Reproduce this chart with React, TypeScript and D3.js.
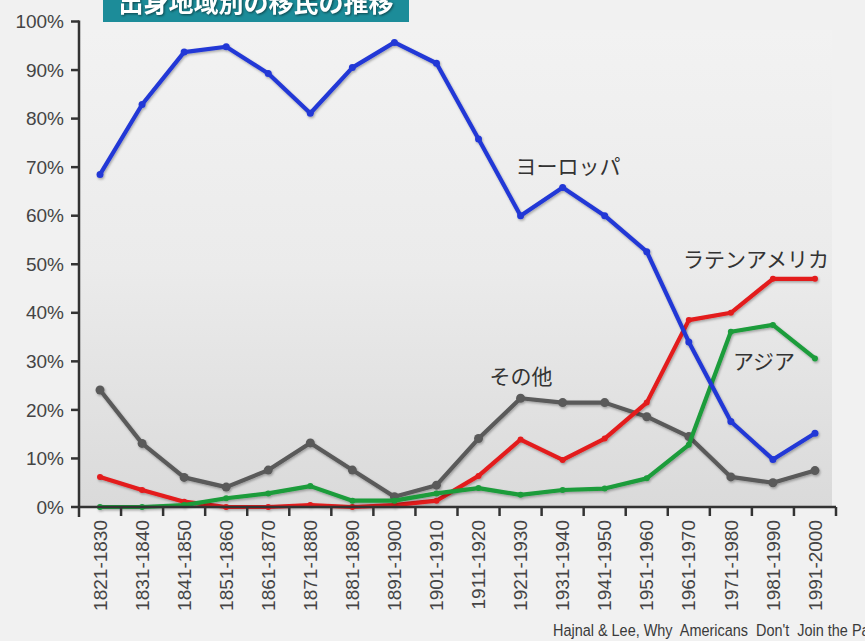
import React from "react";
import * as d3 from "d3";

const categories = [
  "1821-1830", "1831-1840", "1841-1850", "1851-1860", "1861-1870", "1871-1880",
  "1881-1890", "1891-1900", "1901-1910", "1911-1920", "1921-1930", "1931-1940",
  "1941-1950", "1951-1960", "1961-1970", "1971-1980", "1981-1990", "1991-2000",
];
const europe = [68.5, 82.9, 93.7, 94.8, 89.3, 81.1, 90.5, 95.7, 91.4, 75.8, 60.0, 65.8, 60.0, 52.6, 34.0, 17.6, 9.8, 15.2];
const latinAmerica = [6.2, 3.5, 1.1, 0, 0, 0.4, 0, 0.4, 1.3, 6.4, 13.9, 9.7, 14.1, 21.5, 38.5, 40.0, 47.0, 47.0];
const asia = [0, 0, 0.4, 1.8, 2.8, 4.3, 1.3, 1.3, 2.8, 3.9, 2.5, 3.5, 3.8, 5.9, 12.8, 36.1, 37.5, 30.6];
const other = [24.1, 13.1, 6.1, 4.1, 7.6, 13.2, 7.6, 2.1, 4.5, 14.1, 22.4, 21.5, 21.5, 18.6, 14.5, 6.2, 5.0, 7.5];
const yTicks = [0, 10, 20, 30, 40, 50, 60, 70, 80, 90, 100];
const title = "出身地域別の移民の推移";
const seriesNames = ["その他", "ラテンアメリカ", "アジア", "ヨーロッパ"];
const citation = "Hajnal & Lee, Why  Americans  Don't  Join the Party";

const W = 865;
const H = 641;
const left = 79;
const right = 836;
const bottom = 507;
const top = 21.5;

export default function App() {
  const x = d3.scaleBand<string>().domain(categories).range([left, right]);
  const y = d3.scaleLinear().domain([0, 100]).range([bottom, top]);
  const cx = (c: string) => (x(c) as number) + x.bandwidth() / 2;
  const line = d3
    .line<number>()
    .x((_, i) => cx(categories[i]))
    .y((v) => y(v));

  const series = [
    { name: seriesNames[0], values: other, color: "#5a5a5a", r: 4.5, lx: 521, ly: 375 },
    { name: seriesNames[1], values: latinAmerica, color: "#e31b1d", r: 3, lx: 756, ly: 258 },
    { name: seriesNames[2], values: asia, color: "#1b9c3b", r: 3, lx: 764, ly: 360 },
    { name: seriesNames[3], values: europe, color: "#2338d6", r: 3.5, lx: 568, ly: 165 },
  ];

  const cjk = "'Noto Sans CJK JP', 'Noto Sans', sans-serif";
  const sans = "'Liberation Sans', Arial, sans-serif";

  return (
    <svg
      width={W}
      height={H}
      style={{ position: "fixed", left: 0, top: 0, background: "#f1f1f1" }}
    >
      <defs>
        <linearGradient id="bg" x1="0" y1="0" x2="0" y2="1">
          <stop offset="0" stopColor="#f2f2f2" />
          <stop offset="0.5" stopColor="#ebebeb" />
          <stop offset="1" stopColor="#dadada" />
        </linearGradient>
        <filter id="sh" x="-10%" y="-10%" width="120%" height="130%">
          <feDropShadow dx="1" dy="1.5" stdDeviation="1.2" floodColor="#000" floodOpacity="0.3" />
        </filter>
      </defs>
      <rect x={0} y={0} width={W} height={H} fill="#f1f1f1" />
      <rect x={left} y={30} width={832 - left} height={bottom - 30} fill="url(#bg)" />

      {/* title box */}
      <rect x={103} y={-10} width={306} height={32} fill="#1c8c99" />
      <text
        x={256}
        y={12}
        textAnchor="middle"
        fill="#fff"
        fontFamily={cjk}
        fontWeight="bold"
        fontSize={25}
        style={{ filter: "drop-shadow(1px 1px 1px rgba(0,0,0,0.5))" }}
      >
        {title}
      </text>

      {/* lines */}
      {series.map((s) => (
        <g key={s.name} filter="url(#sh)">
          <path d={line(s.values) as string} fill="none" stroke={s.color} strokeWidth={4.2} strokeLinejoin="round" strokeLinecap="round" />
          {s.values.map((v, i) => (
            <circle key={i} cx={cx(categories[i])} cy={y(v)} r={s.r} fill={s.color} />
          ))}
        </g>
      ))}

      {/* series labels */}
      {series.map((s) => (
        <text
          key={"l" + s.name}
          x={s.lx}
          y={s.ly}
          textAnchor="middle"
          dominantBaseline="central"
          fill="#333"
          fontFamily={cjk}
          fontSize={21}
        >
          {s.name}
        </text>
      ))}

      {/* y axis */}
      <line x1={left} x2={left} y1={top - 1} y2={bottom + 10} stroke="#333" strokeWidth={2.5} />
      {yTicks.map((t) => (
        <g key={t}>
          <line x1={left - 8} x2={left} y1={y(t)} y2={y(t)} stroke="#333" strokeWidth={2.5} />
          <text x={64} y={y(t)} dy="0.35em" textAnchor="end" fill="#444" fontFamily={sans} fontSize={19}>
            {t + "%"}
          </text>
        </g>
      ))}

      {/* x axis */}
      <line x1={left} x2={right} y1={bottom} y2={bottom} stroke="#333" strokeWidth={2.5} />
      {categories.map((c) => (
        <line key={"t" + c} x1={(x(c) as number) + x.bandwidth()} x2={(x(c) as number) + x.bandwidth()} y1={bottom} y2={bottom + 9} stroke="#333" strokeWidth={2.5} />
      ))}
      {categories.map((c) => (
        <text
          key={"x" + c}
          transform={`translate(${cx(c)},520) rotate(-90)`}
          dy="0.35em"
          textAnchor="end"
          fill="#444"
          fontFamily={sans}
          fontSize={19}
        >
          {c}
        </text>
      ))}

      {/* citation */}
      <text
        transform="translate(553,636) scale(0.85,1)"
        fill="#3a3a3a"
        fontFamily={sans}
        fontSize={17}
        style={{ whiteSpace: "pre" }}
      >
        {citation}
      </text>
    </svg>
  );
}
